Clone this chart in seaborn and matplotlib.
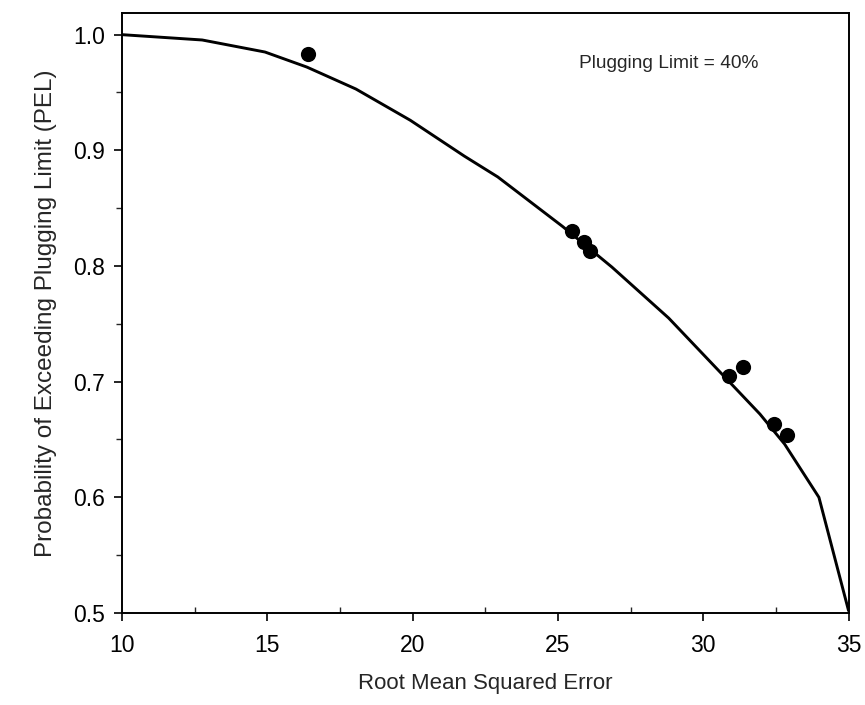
import seaborn as sns
import matplotlib.pyplot as plt
import pandas as pd

# fitted PEL curve
curve_rmse = [10.0, 12.76, 14.92, 16.36, 18.05, 19.92, 21.78, 22.93, 25.17,
              26.86, 28.81, 30.93, 31.95, 32.80, 33.98, 35.0]
curve_pel = [1.0, 0.9954, 0.985, 0.972, 0.953, 0.926, 0.895, 0.877, 0.834,
             0.799, 0.755, 0.699, 0.672, 0.646, 0.600, 0.502]

# observed points
obs_rmse = [16.39, 25.47, 25.88, 26.12, 30.90, 31.37, 32.42, 32.88]
obs_pel = [0.983, 0.830, 0.821, 0.813, 0.705, 0.713, 0.663, 0.654]


def plot_pel():
    sns.set_style("ticks")
    plt.rcParams["font.family"] = ["Liberation Sans", "DejaVu Sans"]

    curve = pd.DataFrame({"rmse": curve_rmse, "pel": curve_pel})
    obs = pd.DataFrame({"rmse": obs_rmse, "pel": obs_pel})

    fig = plt.figure(figsize=(8.65, 7.05), dpi=100)
    ax = fig.add_axes([0.141, 0.1305, 0.840, 0.8515])

    sns.lineplot(data=curve, x="rmse", y="pel", color="black", linewidth=2.1,
                 ax=ax, sort=False)
    sns.scatterplot(data=obs, x="rmse", y="pel", color="black", s=120,
                    edgecolor="black", linewidth=0, ax=ax, zorder=3)

    ax.set_xlim(10, 35)
    ax.set_ylim(0.5, 1.019)
    ax.set_xticks([10, 15, 20, 25, 30, 35])
    ax.set_xticks([12.5, 17.5, 22.5, 27.5, 32.5], minor=True)
    ax.set_yticks([0.5, 0.6, 0.7, 0.8, 0.9, 1.0])
    ax.set_yticks([0.55, 0.65, 0.75, 0.85, 0.95], minor=True)
    ax.set_yticklabels(["0.5", "0.6", "0.7", "0.8", "0.9", "1.0"])

    ax.tick_params(axis="both", which="major", direction="out", length=6,
                   width=1.2, labelsize=16.5, colors="black")
    ax.tick_params(axis="x", which="minor", direction="in", length=4, width=1.0)
    ax.tick_params(axis="y", which="minor", direction="out", length=4, width=1.0)
    ax.tick_params(axis="x", pad=9)
    ax.tick_params(axis="y", pad=6)

    for sp in ax.spines.values():
        sp.set_linewidth(1.4)
        sp.set_color("black")

    ax.set_xlabel("Root Mean Squared Error", fontsize=16, labelpad=12)
    ax.set_ylabel("Probability of Exceeding Plugging Limit (PEL)", fontsize=17.5,
                  labelpad=12)

    ax.text(28.8, 0.975, "Plugging Limit = 40%", fontsize=13.8,
            ha="center", va="center")

    fig.savefig("out.png", dpi=100)
    plt.close(fig)


if __name__ == "__main__":
    plot_pel()
